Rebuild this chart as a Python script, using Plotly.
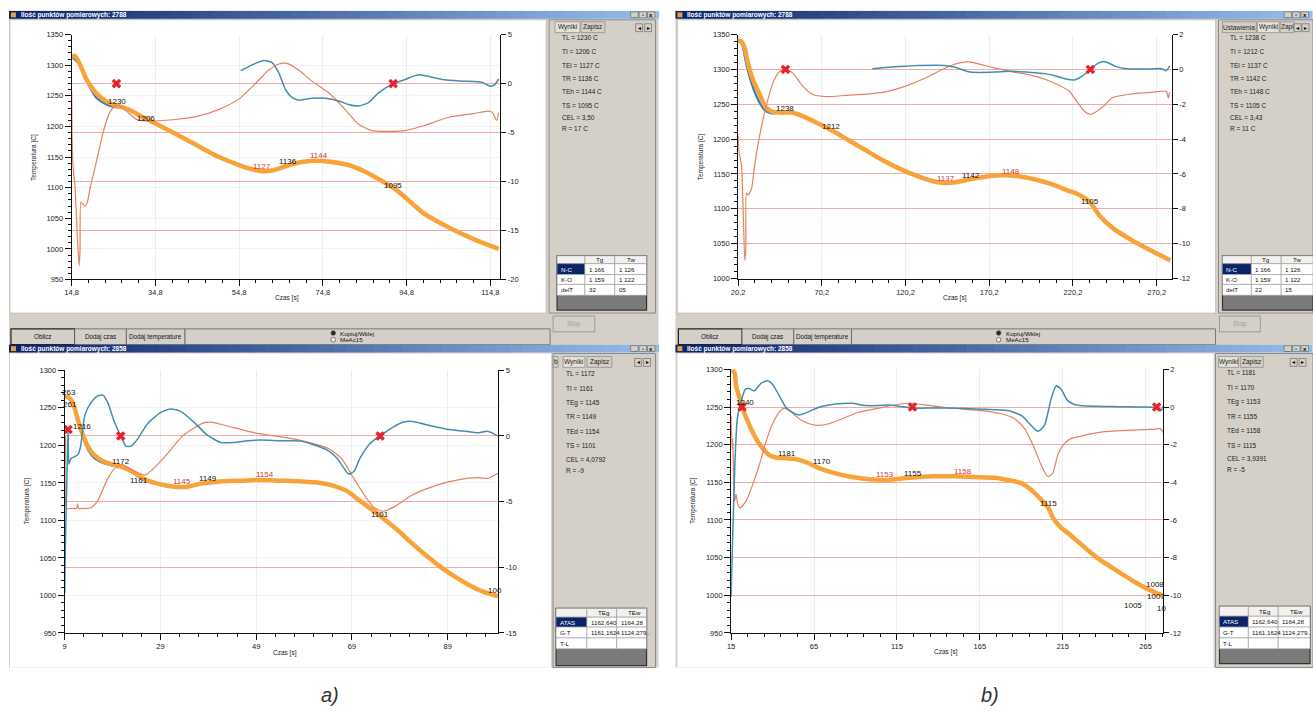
import plotly.graph_objects as go

W, H = 1313, 716
FONT = "Liberation Sans Narrow, Liberation Sans, Arial, sans-serif"

# ======================= DATA =======================
# ---------- a) upper window ----------
A1_TEMP_X = [14.8,15.6,16.8,18.4,20.7,23.1,25.5,27.1,29.5,31.8,34.2,39.0,44.5,50.0,54.8,58.0,60.3,62.7,65.9,69.0,73.0,77.0,80.9,84.9,88.9,92.8,96.8,98.9,104.9,110.8,116.8]
A1_TEMP_Y = [1314,1315,1301,1276,1254,1241,1234,1231,1224,1215,1207,1190,1170,1150,1137,1130,1127,1128,1135,1141,1144,1142,1137,1126,1111,1094,1070,1058,1035,1016,1000]
A1_TREF_X = [14.8,16.8,18.4,20.7,23.1,25.0,27.1]
A1_TREF_Y = [1314,1300,1274,1247,1236,1232,1231]
A1_DREF_X = [55.2,57.9,60.7,62.7,64.3,65.9,67.5,69.1,72.2,75.4,78.6,80.9,83.3,85.7,88.1,91.6,94.4,96.8,97.9,100.9,103.9,108.4,112.8,114.8,115.8,116.8]
A1_DREF_Y = [1.31,1.91,2.35,2.13,1.06,-0.63,-1.44,-1.69,-1.50,-1.50,-1.78,-2.13,-2.28,-1.94,-0.94,-0.03,0.41,0.81,0.91,0.65,0.38,0.25,0.13,-0.27,-0.13,0.47]
A1_DT_X = [14.8,14.9,15.0,15.1,15.6,16.2,16.6,16.8,17.0,17.4,18.0,18.5,19.2,20.7,22.3,23.9,25.1,25.9,27.9,30.2,32.6,39.0,44.5,50.0,54.8,58.8,61.9,64.3,66.3,69.0,72.2,76.2,80.1,83.3,86.5,91.2,94.4,96.8,98.9,104.9,110.8,114.3,115.3,116.3,116.8]
A1_DT_Y = [-0.75,-5.5,-7.0,-8.3,-10.5,-16.0,-18.6,-17.0,-12.1,-12.3,-12.5,-12.2,-10.7,-8.0,-5.0,-2.94,-2.31,-2.19,-2.81,-3.63,-3.81,-3.69,-3.38,-2.63,-1.56,0.06,1.38,2.0,2.06,1.38,0.25,-0.94,-2.63,-4.13,-4.81,-4.88,-4.81,-4.56,-4.31,-3.44,-3.06,-2.81,-2.94,-3.75,-3.0]
A1_MARK_X = [25.5, 91.6]
A1_MARK_Y = [0, 0]
A1_LAB_TEXT = ["1230", "1206", "1127", "1136", "1144", "1095"]
A1_LAB_X = [25.6, 32.6, 60.3, 66.4, 74.0, 91.6]
A1_LAB_T = [1240, 1213, 1135, 1143, 1152, 1103]
A1_LAB_RED = [False, False, True, False, True, False]
A1_XTICKS = [14.8, 34.8, 54.8, 74.8, 94.8, 114.8]
A1_YTICKS = [950, 1000, 1050, 1100, 1150, 1200, 1250, 1300, 1350]
A1_Y2TICKS = [-20, -15, -10, -5, 0, 5]
A1_RESULTS = ["TL = 1230 C", "TI = 1206 C", "TEl = 1127 C", "TR = 1136 C", "TEh = 1144 C", "TS = 1095 C", "CEL = 3,50", "R = 17 C"]
A1_TABLE = [["", "Tg", "Tw"], ["N-C", "1 166", "1 126"], ["K-O", "1 159", "1 122"], ["delT", "32", "05"]]

# ---------- b) upper window ----------
B1_TEMP_X = [20.2,22.2,24.2,26.1,29.1,33.1,37.0,41.0,46.9,52.9,58.8,66.7,76.6,86.5,96.4,106.3,116.2,126.1,136.0,143.9,149.9,157.8,167.7,179.6,189.5,199.4,209.3,217.2,223.2,230.6,236.1,243.6,256.0,268.5,278.4]
B1_TEMP_Y = [1341,1340,1330,1309,1285,1264,1245,1239,1238,1238,1233,1224,1212,1198,1184,1170,1158,1148,1140,1137,1138,1142,1146,1148,1146,1141,1134,1126,1121,1109,1090,1073,1054,1038,1026]
B1_TREF_X = [20.2,22.2,25.2,28.1,32.1,36.0,40.0,44.0]
B1_TREF_Y = [1341,1338,1307,1281,1257,1242,1237,1238]
B1_DREF_X = [100.4,108.3,116.2,128.0,143.9,149.9,157.8,163.8,173.7,183.5,195.4,203.3,211.0,216.0,221.0,225.5,230.6,235.0,238.6,243.0,246.1,251.0,261.0,273.4,275.9,277.9]
B1_DREF_Y = [0.04,0.11,0.17,0.23,0.23,0.13,-0.13,-0.17,-0.15,-0.11,-0.17,-0.24,-0.40,-0.55,-0.60,-0.40,0.00,0.35,0.45,0.30,0.16,0.06,0.02,0.04,-0.08,0.20]
B1_DT_X = [20.2,20.8,22.2,23.2,24.2,24.8,25.2,26.1,28.1,30.1,33.1,37.0,41.0,45.0,48.5,52.9,58.8,64.8,72.7,84.6,98.4,110.3,120.2,132.1,143.9,151.8,157.8,163.8,173.7,183.5,193.5,203.4,211.3,218.0,223.0,227.0,230.6,234.8,238.6,243.6,253.5,268.5,275.9,277.2,277.9]
B1_DT_Y = [-3.80,-4.74,-5.48,-7.94,-10.96,-10.40,-7.10,-7.20,-6.90,-5.49,-3.80,-2.10,-0.77,-0.12,0.02,-0.21,-0.96,-1.44,-1.56,-1.49,-1.40,-1.24,-0.96,-0.49,0.08,0.36,0.45,0.32,0.08,-0.12,-0.30,-0.56,-0.88,-1.25,-1.90,-2.40,-2.58,-2.38,-2.10,-1.62,-1.43,-1.30,-1.25,-1.64,-1.30]
B1_MARK_X = [48.5, 230.6]
B1_MARK_Y = [0, 0]
B1_LAB_TEXT = ["1238", "1212", "1137", "1142", "1148", "1105"]
B1_LAB_X = [48.5, 75.6, 144.3, 159.4, 183.2, 230.6]
B1_LAB_T = [1244, 1218, 1144, 1148, 1154, 1111]
B1_LAB_RED = [False, False, True, False, True, False]
B1_XTICKS = [20.2, 70.2, 120.2, 170.2, 220.2, 270.2]
B1_YTICKS = [1000, 1050, 1100, 1150, 1200, 1250, 1300, 1350]
B1_Y2TICKS = [-12, -10, -8, -6, -4, -2, 0, 2]
B1_RESULTS = ["TL = 1238 C", "TI = 1212 C", "TEl = 1137 C", "TR = 1142 C", "TEh = 1148 C", "TS = 1105 C", "CEL = 3,43", "R = 11 C"]
B1_TABLE = [["", "Tg", "Tw"], ["N-C", "1 166", "1 126"], ["K-O", "1 159", "1 122"], ["delT", "22", "15"]]

# ---------- a) lower window ----------
A2_TEMP_X = [9.0,9.7,10.4,11.1,11.8,12.8,13.9,15.2,17.3,19.4,21.5,23.6,25.6,28.4,31.9,34.7,37.4,41.6,45.8,49.9,54.1,58.3,62.4,65.2,68.0,70.7,73.5,76.3,79.1,81.1,84.2,88.6,92.9,96.4,99.5]
A2_TEMP_Y = [1265,1264,1260,1249,1233,1214,1198,1187,1178,1174,1170,1163,1155,1149,1145,1145,1149,1152,1153,1154,1153,1152,1150,1146,1139,1126,1113,1099,1084,1072,1055,1033,1016,1005,999]
A2_TREF_X = [11.0,12.0,13.0,14.0,15.2,17.3,19.4]
A2_TREF_Y = [1250,1230,1208,1193,1183,1176,1173]
A2_DREF_X = [9.0,9.1,9.35,9.55,9.7,9.85,10.0,10.4,11.1,11.8,12.3,13.2,14.5,15.9,17.0,18.0,19.4,20.7,21.8,22.9,24.3,26.3,29.1,31.2,33.3,36.0,38.8,41.6,44.4,47.2,49.9,54.1,58.3,61.0,63.8,65.9,67.3,68.3,69.4,70.7,72.8,74.9,77.7,79.8,81.7,84.2,88.6,93.8,95.5,97.3,98.5,99.5]
A2_DREF_Y = [-11.97,-9.23,-4.94,-1.69,0.54,-2.14,-1.97,-1.69,-1.57,-1.40,-0.83,1.57,2.54,3.06,3.11,2.54,1.06,0.01,-0.77,-0.77,-0.20,0.94,1.80,2.06,1.86,1.06,0.06,-0.49,-0.49,-0.37,-0.31,-0.37,-0.39,-0.66,-1.06,-1.69,-2.43,-2.89,-2.71,-1.69,-0.57,0.01,0.69,1.06,1.11,0.89,0.54,0.31,0.24,0.37,0.20,-0.01]
A2_DT_X = [9.0,9.2,9.4,10.5,11.5,11.7,11.9,13.0,14.5,15.8,18.0,19.7,21.0,23.2,25.8,30.2,33.7,38.0,39.8,44.1,49.3,54.6,59.8,64.2,66.8,69.4,72.0,73.7,75.5,78.1,81.6,86.8,91.2,95.5,97.3,99.5]
A2_DT_Y = [-0.71,0.03,-5.51,-5.51,-5.51,-5.17,-5.51,-5.51,-5.46,-5.00,-3.23,-2.37,-2.17,-2.60,-2.97,-1.46,0.03,1.00,1.04,0.66,0.20,-0.09,-0.46,-0.97,-1.71,-3.23,-4.71,-5.47,-5.73,-5.34,-4.49,-3.74,-3.34,-3.17,-3.23,-2.83]
A2_MARK_X = [9.7, 20.7, 74.9]
A2_MARK_Y = [0.5, 0, 0]
A2_LAB_TEXT = ["263", "261", "1216", "1172", "1161", "1145", "1149", "1154", "1101", "100"]
A2_LAB_X = [10.0, 10.2, 12.6, 20.7, 24.6, 33.6, 39.0, 50.8, 74.9, 98.8]
A2_LAB_T = [1271, 1254, 1225, 1178, 1153, 1152, 1156, 1161, 1108, 1007]
A2_LAB_RED = [False, False, False, False, False, True, False, True, False, False]
A2_XTICKS = [9, 29, 49, 69, 89]
A2_YTICKS = [950, 1000, 1050, 1100, 1150, 1200, 1250, 1300]
A2_Y2TICKS = [-15, -10, -5, 0, 5]
A2_RESULTS = ["TL = 1172", "TI = 1161", "TEg = 1145", "TR = 1149", "TEd = 1154", "TS = 1101", "CEL = 4,0792", "R = -9"]
A2_TABLE = [["", "TEg", "TEw"], ["ATAS", "1162,640", "1164,28"], ["G-T", "1161,1624", "1124,279.."], ["T-L", "", ""]]

# ---------- b) lower window ----------
B2_TEMP_X = [15,17,18,20,22,26,30,34,38,42,48,54,60,68,78,88,98,108,118,128,138,150,162,174,182,190,196,202,206,210,214,218,223.3,235.7,248.1,260.5,270.5,275.4]
B2_TEMP_Y = [1299,1296,1278,1263,1248,1226,1208,1195,1186,1183,1182,1181,1177,1169,1162,1157,1154,1153,1155,1157,1158,1158,1157,1156,1153,1149,1140,1127,1117,1100,1090,1083,1073,1050,1032,1015,1004,1000]
B2_DREF_X = [15,15.6,16.4,17.4,18.6,20,22,23.6,26,29,33,37,40,44,48,52,56,62,68,78,88,96,104,110,118,128,138,150,162,174,182,190,196,200,204,208,211,214,218,223,235,248.1,260,270.5,274.2,276.7]
B2_DREF_Y = [-10.08,-7.98,-5.52,-2.72,-0.72,-0.01,0.60,0.95,0.98,0.86,1.26,1.39,1.21,0.60,-0.01,-0.28,-0.42,-0.24,-0.01,0.16,0.20,0.08,0.08,0.11,0.02,-0.06,-0.05,-0.06,-0.10,-0.14,-0.19,-0.45,-0.98,-1.29,-0.98,0.42,1.12,0.95,0.34,0.11,0.04,0.02,0.00,-0.02,-0.20,0.32]
B2_DT_X = [15,15.6,16,17,18,19,20.4,24,28,32,36,40,44,47,50,56,62,68,74,82,92,102,112,122,132,142,154,166,178,186,192,198,202,206,209,212,216,220,223.3,238.2,253.1,268,274.2,275.5,276.7]
B2_DT_Y = [-0.45,-2.20,-1.68,-5.00,-4.64,-5.18,-5.36,-5.00,-4.12,-3.08,-1.85,-0.89,-0.28,-0.06,-0.19,-0.62,-0.89,-0.98,-0.89,-0.62,-0.28,-0.10,0.08,0.20,0.11,-0.01,-0.10,-0.19,-0.36,-0.62,-1.15,-2.20,-3.08,-3.69,-3.52,-2.56,-1.94,-1.68,-1.60,-1.33,-1.24,-1.19,-1.16,-1.33,-1.86]
B2_MARK_X = [21.6, 124.4, 271.7]
B2_MARK_Y = [0, 0, 0]
B2_LAB_TEXT = ["1240", "1181", "1170", "1153", "1155", "1158", "1115", "1008", "1007", "1005", "10"]
B2_LAB_X = [23.5, 49.0, 69.6, 108.0, 124.6, 154.6, 206.4, 270.5, 271.2, 257.6, 274.6]
B2_LAB_T = [1256, 1188, 1177, 1160, 1162, 1165, 1122, 1014, 999, 986, 983]
B2_LAB_RED = [False, False, False, True, False, True, False, False, False, False, False]
B2_XTICKS = [15, 65, 115, 165, 215, 265]
B2_YTICKS = [950, 1000, 1050, 1100, 1150, 1200, 1250, 1300]
B2_Y2TICKS = [-12, -10, -8, -6, -4, -2, 0, 2]
B2_RESULTS = ["TL = 1181", "TI = 1170", "TEg = 1153", "TR = 1155", "TEd = 1158", "TS = 1115", "CEL = 3,9391", "R = -5"]
B2_TABLE = [["", "TEg", "TEw"], ["ATAS", "1162,640", "1164,28"], ["G-T", "1161,1624", "1124,279.."], ["T-L", "", ""]]

TITLE_TOP = "Ilość punktów pomiarowych: 2788"
TITLE_BOTTOM = "Ilość punktów pomiarowych: 2858"

# ======================= STYLE / HELPERS =======================
ORANGE = "#f8a33a"
BLUE = "#2f7fc1"
TEAL = "#3f90ae"
SALMON = "#e6805f"
REDGRID = "#f2aaaa"
WINGRAY = "#d4d0c8"

shapes = []
annotations = []


def rect(x0, y0, x1, y1, fill, line=None, lw=1, layer="below"):
    shapes.append(dict(type="rect", xref="paper", yref="paper",
                       x0=x0 / W, x1=x1 / W, y0=1 - y1 / H, y1=1 - y0 / H,
                       fillcolor=fill, layer=layer,
                       line=dict(color=line if line else fill, width=lw if line else 0)))


def circle(cx, cy, r, fill, line):
    shapes.append(dict(type="circle", xref="paper", yref="paper",
                       x0=(cx - r) / W, x1=(cx + r) / W, y0=1 - (cy + r) / H, y1=1 - (cy - r) / H,
                       fillcolor=fill, line=dict(color=line, width=0.8), layer="above"))


def text(x, y, s, size=7, color="#111111", xanchor="left", angle=0, bold=False, italic=False):
    if bold:
        s = "<b>" + s + "</b>"
    if italic:
        s = "<i>" + s + "</i>"
    annotations.append(dict(xref="paper", yref="paper", x=x / W, y=1 - y / H, text=s,
                            showarrow=False, xanchor=xanchor, yanchor="middle",
                            textangle=angle, font=dict(family=FONT, size=size, color=color)))


def title_bar(x0, x1, y0, y1, title):
    n = 48
    c0 = (10, 36, 106)
    c1 = (150, 190, 234)
    step = (x1 - x0) / n
    for i in range(n):
        t = i / (n - 1)
        col = "rgb(%d,%d,%d)" % tuple(int(c0[j] + (c1[j] - c0[j]) * t) for j in range(3))
        rect(x0 + i * step, y0, x0 + (i + 1) * step + 0.6, y1, col)
    rect(x0 + 2, y0 + 1.5, x0 + 7, y1 - 1.5, "#e8a040")
    text(x0 + 10, (y0 + y1) / 2, title, size=6.5, color="white", bold=True)
    for k, g in enumerate(["_", "▫", "x"]):
        bx = x1 - 28 + k * 8.5
        rect(bx, y0 + 1, bx + 7.5, y1 - 1, WINGRAY, "#606060", 0.6)
        text(bx + 3.75, (y0 + y1) / 2, g, size=6, color="#000", xanchor="center", bold=True)


def side_panel(x0, x1, y0, y1, tabs, active, arrows_x, tab_y, results, rx, ry, table, cols, rows, gray_bottom):
    rect(x0, y0, x1, y1, WINGRAY, "#8a8a8a", 1)
    for i, (label, tx0, tx1) in enumerate(tabs):
        fill = "#e4e1da" if i == active else WINGRAY
        rect(tx0, tab_y[0], tx1, tab_y[1], fill, "#7a7a7a", 0.6)
        text((tx0 + tx1) / 2, (tab_y[0] + tab_y[1]) / 2, label, size=6.5, color="#222", xanchor="center")
    for k, ax in enumerate(arrows_x):
        rect(ax, tab_y[0] + 2, ax + 7, tab_y[1] - 1, WINGRAY, "#606060", 0.6)
        text(ax + 3.5, (tab_y[0] + tab_y[1]) / 2 + 0.5, "◂" if k == 0 else "▸", size=6, color="#000", xanchor="center")
    for s, yy in zip(results, ry):
        text(rx, yy, s, size=6.5, color="#222")
    # table
    rect(cols[0], rows[0], cols[-1], gray_bottom, "#7b7b7b", "#333333", 1.2)
    for r in range(len(rows) - 1):
        for c in range(len(cols) - 1):
            fill = "white"
            tcol = "#111"
            if r == 0:
                fill = "#f2f1ed"
            if r == 1 and c == 0:
                fill = "#0a246a"
                tcol = "white"
            rect(cols[c], rows[r], cols[c + 1], rows[r + 1], fill, "#9a9a9a", 0.6)
            s = table[r][c]
            if s:
                text(cols[c] + 2 if r > 0 else (cols[c] + cols[c + 1]) / 2 - 6, (rows[r] + rows[r + 1]) / 2, s,
                     size=6.2, color=tcol)


def buttons_row(y0, y1, items, field_end, radio_x):
    for k, (label, bx0, bx1) in enumerate(items):
        rect(bx0, y0, bx1, y1, WINGRAY, "#202020" if k == 0 else "#606060", 1.2 if k == 0 else 0.8)
        text((bx0 + bx1) / 2, (y0 + y1) / 2, label, size=6.3, color="#111", xanchor="center")
    rect(items[-1][2], y0, field_end, y1, WINGRAY, "#606060", 0.8)
    circle(radio_x, y0 + 4.2, 2.3, "#222", "#555")
    circle(radio_x, y0 + 11, 2.3, "white", "#555")
    text(radio_x + 5, y0 + 4.2, "Kopiuj/Wklej", size=6.2)
    text(radio_x + 5, y0 + 11, "MeAc15", size=6.2)


# ======================= WINDOW CHROME =======================
# upper-left window
rect(2, 15, 655, 345, WINGRAY)
title_bar(2, 655, 7, 15, TITLE_TOP)
rect(3, 16, 542, 313, "white", "#b0b0b0", 0.6)
side_panel(545, 652, 16, 313, [("Wyniki", 551, 576), ("Zapisz", 577, 601)], 0, [632, 641], (18, 29),
           A1_RESULTS, 556, [34, 48, 62, 75, 89, 103, 115, 126],
           A1_TABLE, [553, 581, 611, 643], [255, 263, 274, 284, 295], 310)
rect(549, 316, 591, 332, WINGRAY, "#8a8a8a", 0.8)
text(570, 324, "Stop", size=6.5, color="#a0a0a0", xanchor="center")
buttons_row(329, 345, [("Oblicz", 4, 68), ("Dodaj czas", 68, 120), ("Dodaj temperature", 120, 179)], 546, 328)

# upper-right window
rect(672, 15, 1313, 345, WINGRAY)
title_bar(672, 1312, 7, 15, TITLE_TOP)
rect(674, 16, 1215, 313, "white", "#b0b0b0", 0.6)
side_panel(1218, 1313, 16, 313, [("Ustawienia", 1222, 1256), ("Wyniki", 1257, 1279), ("Zapi", 1280, 1294)], 1,
           [1294, 1302], (18, 29),
           B1_RESULTS, 1228, [34, 48, 62, 75, 89, 103, 115, 126],
           B1_TABLE, [1222, 1251, 1281, 1313], [255, 263, 274, 284, 295], 310)
rect(1219, 316, 1260, 332, WINGRAY, "#8a8a8a", 0.8)
text(1239.5, 324, "Stop", size=6.5, color="#a0a0a0", xanchor="center")
buttons_row(329, 345, [("Oblicz", 675, 739), ("Dodaj czas", 739, 791), ("Dodaj temperature", 791, 849)], 1215, 997)

# lower-left window
rect(2, 353, 655, 672, WINGRAY)
title_bar(2, 655, 345, 353, TITLE_BOTTOM)
rect(3, 354, 547, 672, "white")
side_panel(549, 652, 354, 672, [("b", 549, 554), ("Wyniki", 559, 581), ("Zapisz", 583, 608)], 1, [631, 640],
           (357, 368), A2_RESULTS, 560, [374, 389, 404, 418, 433, 447, 461, 472],
           A2_TABLE, [552, 583, 613, 643], [612, 621, 631, 642, 653], 670)

# lower-right window
rect(672, 353, 1313, 672, WINGRAY)
title_bar(672, 1312, 345, 353, TITLE_BOTTOM)
rect(674, 354, 1213, 672, "white")
side_panel(1215, 1313, 354, 672, [("Wyniki", 1218, 1238), ("Zapisz", 1240, 1263)], 0, [1290, 1299],
           (357, 368), B2_RESULTS, 1225, [373, 388, 403, 418, 432, 447, 460, 471],
           B2_TABLE, [1219, 1248, 1278, 1310], [610, 620, 631, 642, 653], 668)

# axis titles and captions
for (tx, ty, cx, cy) in [(27, 155, 281, 298), (698, 155, 953, 298), (20, 503, 279, 657), (689, 503, 944, 656)]:
    text(tx, ty, "Temperatura [C]", size=6.5, color="#222", xanchor="center", angle=-90)
    text(cx, cy, "Czas [s]", size=6.5, color="#222", xanchor="center")
text(325, 700, "a)", size=20, color="#333", xanchor="center", italic=True)
text(988, 700, "b)", size=20, color="#333", xanchor="center", italic=True)

# ======================= CHART PANELS =======================
fig = go.Figure()
layout = {}

PANELS = [
    dict(box=(65, 496, 31, 279), xr=[14.8, 117.2], yr=[950, 1350], y2r=[-20, 5], lgrid=True,
         xt=A1_XTICKS, yt=A1_YTICKS, y2t=A1_Y2TICKS, xminor=4, yminor=10,
         temp=(A1_TEMP_X, A1_TEMP_Y), tref=(A1_TREF_X, A1_TREF_Y),
         dref=(A1_DREF_X, A1_DREF_Y), dt=(A1_DT_X, A1_DT_Y), mark=(A1_MARK_X, A1_MARK_Y),
         lab=(A1_LAB_TEXT, A1_LAB_X, A1_LAB_T, A1_LAB_RED)),
    dict(box=(735, 1171, 31, 278), xr=[20.2, 279.2], yr=[1000, 1350], y2r=[-12, 2], lgrid=False,
         xt=B1_XTICKS, yt=B1_YTICKS, y2t=B1_Y2TICKS, xminor=10, yminor=10,
         temp=(B1_TEMP_X, B1_TEMP_Y), tref=(B1_TREF_X, B1_TREF_Y),
         dref=(B1_DREF_X, B1_DREF_Y), dt=(B1_DT_X, B1_DT_Y), mark=(B1_MARK_X, B1_MARK_Y),
         lab=(B1_LAB_TEXT, B1_LAB_X, B1_LAB_T, B1_LAB_RED)),
    dict(box=(58, 494, 371, 637), xr=[9, 99.6], yr=[950, 1300], y2r=[-15, 5], lgrid=True,
         xt=A2_XTICKS, yt=A2_YTICKS, y2t=A2_Y2TICKS, xminor=4, yminor=10,
         temp=(A2_TEMP_X, A2_TEMP_Y), tref=(A2_TREF_X, A2_TREF_Y),
         dref=(A2_DREF_X, A2_DREF_Y), dt=(A2_DT_X, A2_DT_Y), mark=(A2_MARK_X, A2_MARK_Y),
         lab=(A2_LAB_TEXT, A2_LAB_X, A2_LAB_T, A2_LAB_RED)),
    dict(box=(728, 1162, 370, 637), xr=[15, 275.4], yr=[950, 1300], y2r=[-12, 2], lgrid=False,
         xt=B2_XTICKS, yt=B2_YTICKS, y2t=B2_Y2TICKS, xminor=10, yminor=10,
         temp=(B2_TEMP_X, B2_TEMP_Y), tref=None,
         dref=(B2_DREF_X, B2_DREF_Y), dt=(B2_DT_X, B2_DT_Y), mark=(B2_MARK_X, B2_MARK_Y),
         lab=(B2_LAB_TEXT, B2_LAB_X, B2_LAB_T, B2_LAB_RED)),
]

TICKFONT = dict(family=FONT, size=7.5, color="#222")

for k, p in enumerate(PANELS, start=1):
    xa = "x" if k == 1 else "x%d" % k
    yl = "y" if k == 1 else "y%d" % (2 * k - 1)
    yr2 = "y%d" % (2 * k)
    xkey = "xaxis" if k == 1 else "xaxis%d" % k
    ylkey = "yaxis" if k == 1 else "yaxis%d" % (2 * k - 1)
    yrkey = "yaxis%d" % (2 * k)
    left, right, top, bottom = p["box"]
    layout[xkey] = dict(domain=[left / W, right / W], range=p["xr"], anchor=yl,
                        tickmode="array", tickvals=p["xt"],
                        ticktext=[("%g" % v).replace(".", ",") for v in p["xt"]],
                        ticks="outside", ticklen=6, tickwidth=1, tickcolor="#111",
                        showline=True, linecolor="#111", linewidth=1,
                        showgrid=True, gridcolor="#ececec", gridwidth=1, zeroline=False,
                        tickfont=TICKFONT, fixedrange=True,
                        minor=dict(tickmode="linear", tick0=p["xr"][0], dtick=p["xminor"],
                                   ticks="outside", ticklen=3, tickcolor="#111", showgrid=False))
    layout[ylkey] = dict(domain=[1 - bottom / H, 1 - top / H], range=p["yr"], anchor=xa,
                         tickmode="array", tickvals=p["yt"], ticktext=[str(v) for v in p["yt"]],
                         ticks="outside", ticklen=6, tickwidth=1, tickcolor="#111",
                         showline=True, linecolor="#111", linewidth=1,
                         showgrid=p["lgrid"], gridcolor="#f1f1f1", zeroline=False,
                         tickfont=TICKFONT, fixedrange=True,
                         minor=dict(tickmode="linear", tick0=p["yr"][0], dtick=p["yminor"],
                                    ticks="outside", ticklen=3, tickcolor="#111", showgrid=False))
    layout[yrkey] = dict(overlaying=yl, side="right", anchor=xa, range=p["y2r"],
                         tickmode="array", tickvals=p["y2t"], ticktext=[str(v) for v in p["y2t"]],
                         ticks="outside", ticklen=5, tickwidth=1, tickcolor="#111",
                         showline=True, linecolor="#111", linewidth=1,
                         showgrid=True, gridcolor=REDGRID, gridwidth=1, zeroline=False,
                         tickfont=TICKFONT, fixedrange=True)

    if p["tref"] is not None:
        fig.add_trace(go.Scatter(x=p["tref"][0], y=p["tref"][1], xaxis=xa, yaxis=yl, mode="lines",
                                 line=dict(color=BLUE, width=2.2, shape="spline", smoothing=0.8),
                                 hoverinfo="skip", showlegend=False))
    fig.add_trace(go.Scatter(x=p["temp"][0], y=p["temp"][1], xaxis=xa, yaxis=yl, mode="lines",
                             line=dict(color=ORANGE, width=4.5, shape="spline", smoothing=0.8),
                             hoverinfo="skip", showlegend=False))
    fig.add_trace(go.Scatter(x=p["dt"][0], y=p["dt"][1], xaxis=xa, yaxis=yr2, mode="lines",
                             line=dict(color=SALMON, width=1.2, shape="spline", smoothing=0.6),
                             hoverinfo="skip", showlegend=False))
    fig.add_trace(go.Scatter(x=p["dref"][0], y=p["dref"][1], xaxis=xa, yaxis=yr2, mode="lines",
                             line=dict(color=TEAL, width=1.5, shape="spline", smoothing=0.6),
                             hoverinfo="skip", showlegend=False))
    fig.add_trace(go.Scatter(x=p["mark"][0], y=p["mark"][1], xaxis=xa, yaxis=yr2, mode="markers",
                             marker=dict(symbol="x", size=8.5, color="#e4232b", line=dict(width=0)),
                             hoverinfo="skip", showlegend=False))
    labs, lx, lt, lred = p["lab"]
    for s, xx, tt, red in zip(labs, lx, lt, lred):
        annotations.append(dict(xref=xa, yref=yl, x=xx, y=tt, text=s, showarrow=False,
                                xanchor="center", yanchor="middle",
                                font=dict(family=FONT, size=8, color="#d2383a" if red else "#111")))

fig.update_layout(**layout)
fig.update_layout(width=W, height=H, margin=dict(l=0, r=0, t=0, b=0),
                  paper_bgcolor="white", plot_bgcolor="rgba(0,0,0,0)",
                  showlegend=False, shapes=shapes, annotations=annotations,
                  font=dict(family=FONT))

fig.write_html("out.html", config={"displayModeBar": False},
               post_script="document.body.style.margin='0px';document.body.style.overflow='hidden';")
